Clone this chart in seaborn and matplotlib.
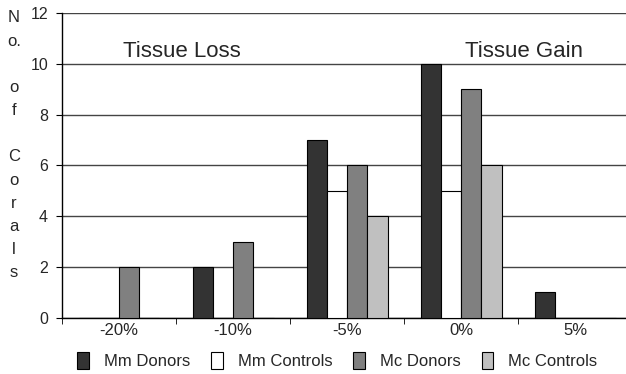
import pandas as pd
import numpy as np
import matplotlib.pyplot as plt
import seaborn as sns
from matplotlib.patches import Patch

# 数据
changes = ['-20%', '-10%', '-5%', '0%', '5%']
groups = ['Mm Donors', 'Mm Controls', 'Mc Donors', 'Mc Controls']
mm_donors = [0, 2, 7, 10, 1]
mm_controls = [0, 0, 5, 5, 0]
mc_donors = [2, 3, 6, 9, 0]
mc_controls = [0, 0, 4, 6, 0]
colors = ['#333333', '#ffffff', '#808080', '#c0c0c0']

df = pd.DataFrame({
    'change': changes * 4,
    'group': np.repeat(groups, len(changes)),
    'count': mm_donors + mm_controls + mc_donors + mc_controls,
})

sns.set_style('white')
plt.rcParams['font.family'] = ['Liberation Sans', 'DejaVu Sans']

fig = plt.figure(figsize=(6.26, 3.74), dpi=100)
ax = fig.add_axes([0.099, 0.150, 0.911, 0.815])

sns.barplot(data=df, x='change', y='count', hue='group', hue_order=groups,
            palette=colors, width=0.71, edgecolor='black', linewidth=0.8,
            saturation=1, ax=ax, legend=False, zorder=3)

ax.set_ylim(0, 12)
ax.set_xlim(-0.5, 4.5)
ax.set_yticks(range(0, 13, 2))
ax.yaxis.grid(True, color='#444444', linewidth=1)
ax.set_axisbelow(True)
ax.set_xlabel('')
ax.set_ylabel('')
for s in ['top', 'right']:
    ax.spines[s].set_visible(False)
for s in ['left', 'bottom']:
    ax.spines[s].set_color('black')
    ax.spines[s].set_linewidth(1)

ax.tick_params(axis='x', which='major', length=0, labelsize=12, pad=4)
ax.set_xticks(np.arange(-0.5, 5, 1), minor=True)
ax.tick_params(axis='x', which='minor', length=4, direction='out', color='black', bottom=True)
ax.tick_params(axis='y', length=4, direction='out', color='black', labelsize=11.5, left=True, pad=6)

ax.text(0.55, 10.27, 'Tissue Loss', fontsize=16, ha='center', va='baseline')
ax.text(3.55, 10.27, 'Tissue Gain', fontsize=16, ha='center', va='baseline')

ylabel = 'N\no.\n\no\nf\n\nC\no\nr\na\nl\ns'
fig.text(0.022, 0.972, ylabel, fontsize=12, ha='center', va='top', linespacing=1.68)

handles = [Patch(facecolor=c, edgecolor='black', linewidth=0.8) for c in colors]
fig.legend(handles, groups, loc='center', bbox_to_anchor=(0.539, 0.035), ncol=4,
           frameon=False, fontsize=12, handlelength=0.7, handleheight=1.2,
           columnspacing=1.25, handletextpad=0.9)

plt.savefig('out.png', dpi=100)
plt.close()
